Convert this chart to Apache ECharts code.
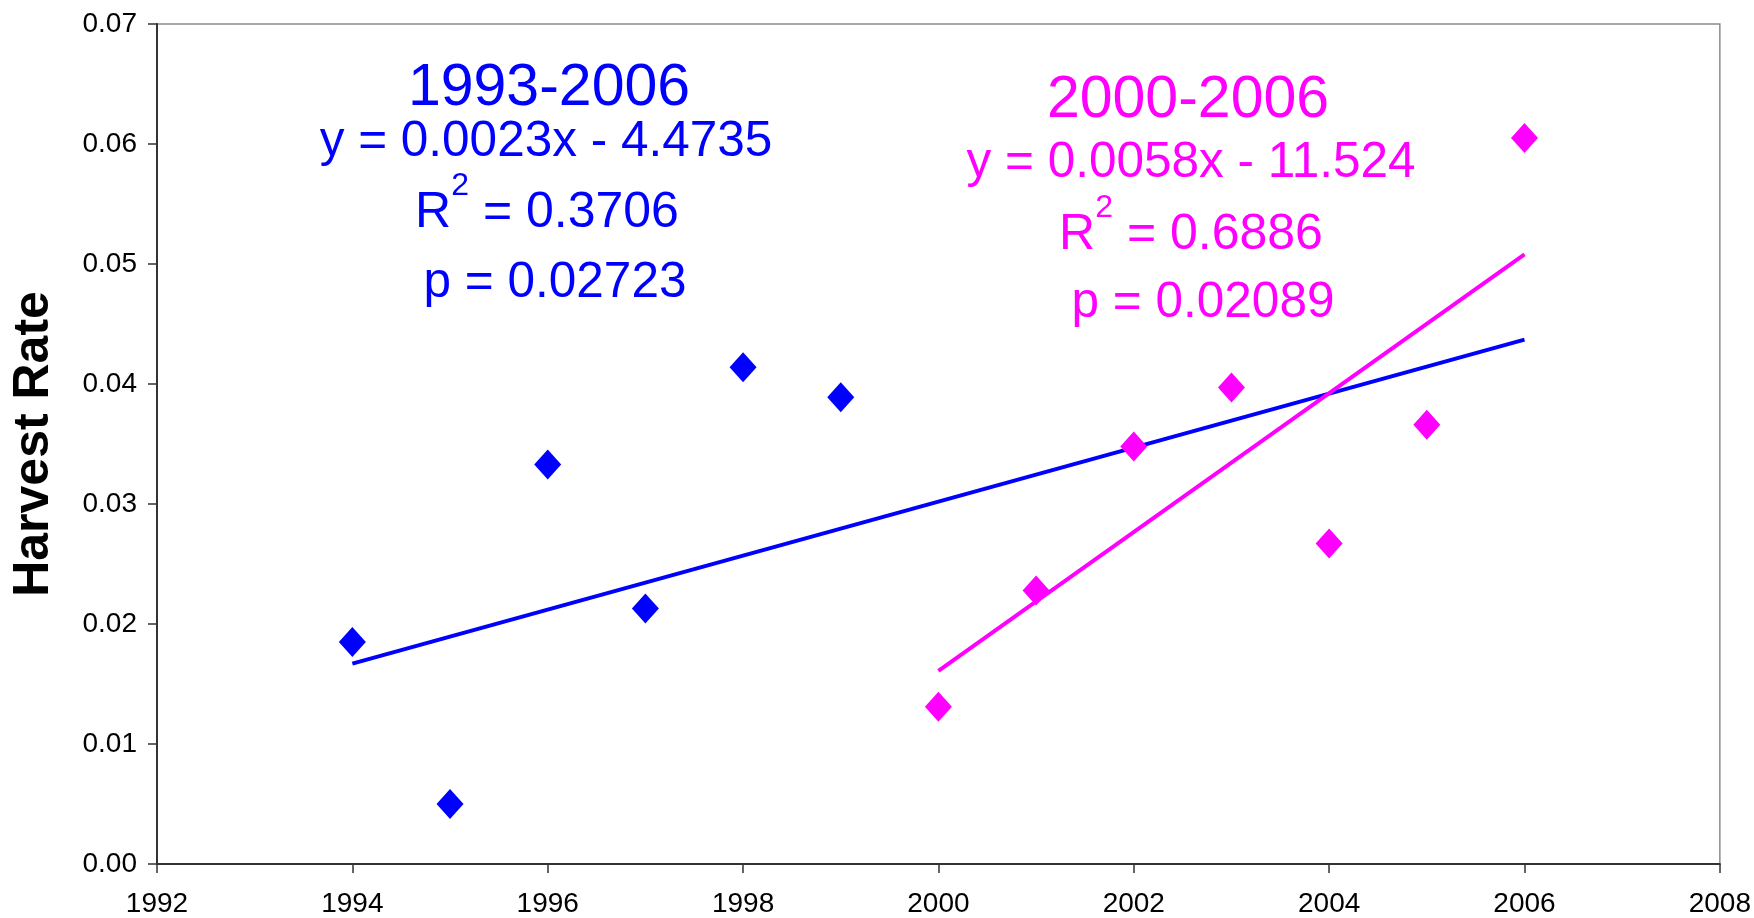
<!DOCTYPE html>
<html>
<head>
<meta charset="utf-8">
<script src="https://cdn.jsdelivr.net/npm/echarts@6/dist/echarts.min.js"></script>
<style>
  html, body { margin: 0; padding: 0; background: #fff; }
  #chart { width: 1754px; height: 918px; }
</style>
</head>
<body>
<div id="chart"></div>
<script>
// harvest rate by year
const blueYears = [1994, 1995, 1996, 1997, 1998, 1999]
const blueRates = [0.0185, 0.0050, 0.0333, 0.0213, 0.0414, 0.0389]
const pinkYears = [2000, 2001, 2002, 2003, 2004, 2005, 2006]
const pinkRates = [0.0131, 0.0228, 0.0348, 0.0397, 0.0267, 0.0366, 0.0605]

// trend line end points (1993-2006 and 2000-2006 fits)
const blueTrendYears = [1994, 2006]
const blueTrendRates = [0.0167, 0.0437]
const pinkTrendYears = [2000, 2006]
const pinkTrendRates = [0.0161, 0.0508]

const blueNotes = ['1993-2006', 'y = 0.0023x - 4.4735', '{r|R}{sup|2}{r| = 0.3706}', 'p = 0.02723']
const pinkNotes = ['2000-2006', 'y = 0.0058x - 11.524', '{r|R}{sup|2}{r| = 0.6886}', 'p = 0.02089']

const BLUE = '#0000ff'
const PINK = '#ff00ff'
const FONT = 'Liberation Sans, Arial, sans-serif'

const zip = (xs, ys) => xs.map((x, i) => [x, ys[i]])

function noteBlock(lines, color, cx, ys) {
  return lines.map((text, i) => ({
    type: 'text',
    x: cx[i],
    y: ys[i],
    z: 100,
    style: {
      text,
      fill: color,
      font: (i === 0 ? '59px ' : '49.5px ') + FONT,
      align: 'center',
      verticalAlign: 'middle',
      rich: {
        r: { fontSize: 50, fontFamily: FONT, fill: color, color: color, lineHeight: 68, verticalAlign: 'bottom' },
        sup: { fontSize: 32, fontFamily: FONT, fill: color, color: color, lineHeight: 30, verticalAlign: 'top' },
      },
    },
  }))
}

const chart = echarts.init(document.getElementById('chart'))

chart.setOption({
  animation: false,
  textStyle: { fontFamily: FONT },
  grid: {
    left: 157, right: 34, top: 24, bottom: 51,
    show: true, borderColor: '#8c8c8c', borderWidth: 1.5,
  },
  xAxis: {
    type: 'value',
    min: 1992, max: 2008, interval: 2,
    axisLine: { show: true, onZero: false, lineStyle: { color: '#333', width: 2 } },
    axisTick: { show: true, length: 9, lineStyle: { color: '#333', width: 1.5 } },
    axisLabel: { fontSize: 28, color: '#000', margin: 26, formatter: (v) => String(v) },
    splitLine: { show: false },
  },
  yAxis: {
    type: 'value',
    min: 0, max: 0.07, interval: 0.01,
    name: 'Harvest Rate',
    nameLocation: 'middle',
    nameGap: 98,
    nameTextStyle: { fontSize: 50, fontWeight: 'bold', color: '#000' },
    axisLine: { show: true, lineStyle: { color: '#333', width: 2 } },
    axisTick: { show: true, length: 9, lineStyle: { color: '#333', width: 1.5 } },
    axisLabel: { fontSize: 28, color: '#000', margin: 20, formatter: (v) => v.toFixed(2) },
    splitLine: { show: false },
  },
  series: [
    {
      name: '1993-2006 trend',
      type: 'line',
      data: zip(blueTrendYears, blueTrendRates),
      showSymbol: false,
      lineStyle: { color: BLUE, width: 4 },
      z: 2,
    },
    {
      name: '2000-2006 trend',
      type: 'line',
      data: zip(pinkTrendYears, pinkTrendRates),
      showSymbol: false,
      lineStyle: { color: PINK, width: 4 },
      z: 2,
    },
    {
      name: '1994-1999',
      type: 'scatter',
      data: zip(blueYears, blueRates),
      symbol: 'diamond',
      symbolSize: [27, 30],
      itemStyle: { color: BLUE, opacity: 1 },
      z: 3,
    },
    {
      name: '2000-2006',
      type: 'scatter',
      data: zip(pinkYears, pinkRates),
      symbol: 'diamond',
      symbolSize: [27, 30],
      itemStyle: { color: PINK, opacity: 1 },
      z: 3,
    },
  ],
  graphic: [
    ...noteBlock(blueNotes, BLUE, [549, 546, 547, 555], [89, 142, 204, 283]),
    ...noteBlock(pinkNotes, PINK, [1188, 1191, 1191, 1203], [101, 163, 226, 303]),
  ],
})
</script>
</body>
</html>
